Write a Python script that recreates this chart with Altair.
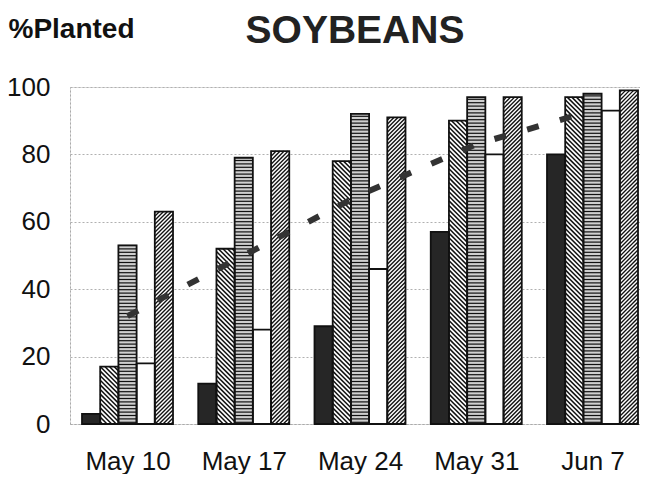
import altair as alt
import pandas as pd

# ---- data ----
dates = ["May 10", "May 17", "May 24", "May 31", "Jun 7"]
series = ["solid", "back_hatch", "horizontal", "white", "fwd_hatch"]
solid_vals = [3, 12, 29, 57, 80]
back_hatch_vals = [17, 52, 78, 90, 97]
horizontal_vals = [53, 79, 92, 97, 98]
white_vals = [18, 28, 46, 80, 93]
fwd_hatch_vals = [63, 81, 91, 97, 99]
avg_vals = [32, 50, 68, 83, 93]
y_ticks = [0, 20, 40, 60, 80, 100]

all_vals = [solid_vals, back_hatch_vals, horizontal_vals, white_vals, fwd_hatch_vals]
fills = ["#262626", "white", "#cfcfcf", "white", "white"]

# ---- layout constants (pixels) ----
W, H = 570, 337
STEP = 116.25          # px per date group
BAR = 18.2             # px per bar
LEFT = 57.5            # px from plot left to first group centre
KY = H / 100.0
x_dom = [-LEFT / STEP, (W - LEFT) / STEP]
xscale = alt.Scale(domain=x_dom, nice=False, zero=False)
yscale = alt.Scale(domain=[0, 100], nice=False)

bars = []
hatch = []
for k, (name, vals) in enumerate(zip(series, all_vals)):
    for i, v in enumerate(vals):
        xl = -2.5 * BAR + k * BAR
        xr = xl + BAR
        h = v * KY
        bars.append({"series": name, "date": dates[i], "x": i + xl / STEP,
                     "x2": i + xr / STEP, "y": 0, "y2": v})
        if name == "back_hatch":      # lines x + y = c (y up)
            s = 4.6
            c = xl + s * 0.5
            while c < xr + h:
                xa, xb = max(xl, c - h), min(xr, c)
                if xb - xa > 0.3:
                    hatch.append({"kind": "diag_b", "x": i + xa / STEP, "y": (c - xa) / KY,
                                  "x2": i + xb / STEP, "y2": (c - xb) / KY})
                c += s
        elif name == "fwd_hatch":     # lines y = x + c (y up)
            s = 4.0
            c = -xr + s * 0.5
            while c < h - xl:
                xa, xb = max(xl, -c), min(xr, h - c)
                if xb - xa > 0.3:
                    hatch.append({"kind": "diag_f", "x": i + xa / STEP, "y": (xa + c) / KY,
                                  "x2": i + xb / STEP, "y2": (xb + c) / KY})
                c += s
        elif name == "horizontal":
            s = 3.4
            yy = s * 0.5
            while yy < h:
                hatch.append({"kind": "horiz", "x": i + xl / STEP, "y": yy / KY,
                              "x2": i + xr / STEP, "y2": yy / KY})
                yy += s

bars_df = pd.DataFrame(bars)
hatch_df = pd.DataFrame(hatch)
line_df = pd.DataFrame({"x": list(range(len(dates))), "avg": avg_vals, "date": dates})

FONT = "Liberation Sans"
label_expr = "[" + ",".join("'%s'" % d for d in dates) + "][datum.value]"

x_axis = alt.Axis(values=list(range(len(dates))), labelExpr=label_expr, grid=False,
                  ticks=False, domain=True, domainDash=[2, 2], domainColor="#aaaaaa",
                  labelFontSize=26, labelFont=FONT, labelColor="#111111", labelPadding=24,
                  labelFlush=False, labelOverlap=False, title=None)
y_axis = alt.Axis(values=y_ticks, grid=True, gridDash=[2, 2], gridColor="#b0b0b0",
                  gridWidth=1, domain=True, domainDash=[2, 2], domainColor="#aaaaaa",
                  ticks=False, labelFontSize=26, labelFont=FONT, labelColor="#111111",
                  labelPadding=20, labelFlush=False,
                  title="%Planted", titleAngle=0, titleX=-62, titleY=-50,
                  titleAlign="left", titleBaseline="alphabetic", titleFontSize=28,
                  titleFontWeight="bold", titleFont=FONT, titleColor="#111111")

X = alt.X("x:Q", scale=xscale, axis=x_axis)

fill_layer = alt.Chart(bars_df).mark_rect(strokeWidth=0).encode(
    x=X,
    x2="x2:Q",
    y=alt.Y("y:Q", scale=yscale, axis=y_axis),
    y2="y2:Q",
    fill=alt.Fill("series:N", scale=alt.Scale(domain=series, range=fills), legend=None),
)

hatch_layer = alt.Chart(hatch_df).mark_rule(color="#111111").encode(
    x=X,
    x2="x2:Q",
    y=alt.Y("y:Q", scale=yscale, axis=y_axis),
    y2="y2:Q",
    strokeWidth=alt.StrokeWidth("kind:N", scale=alt.Scale(domain=["diag_b", "diag_f", "horiz"],
                                                          range=[1.5, 1.2, 1.3]), legend=None),
)

outline_layer = alt.Chart(bars_df).mark_rect(fill="transparent", stroke="#111111",
                                             strokeWidth=1.8).encode(
    x=X,
    x2="x2:Q",
    y=alt.Y("y:Q", scale=yscale, axis=y_axis),
    y2="y2:Q",
)

line_layer = alt.Chart(line_df).mark_line(color="#333333", strokeWidth=6,
                                          strokeDash=[12, 22], strokeCap="butt").encode(
    x=X,
    y=alt.Y("avg:Q", scale=yscale, axis=y_axis),
)

chart = alt.layer(fill_layer, hatch_layer, outline_layer, line_layer).properties(
    width=W, height=H,
    autosize=alt.AutoSizeParams(type="none"),
    padding={"left": 62, "top": 79, "right": 0, "bottom": 50},
    title=alt.TitleParams("SOYBEANS", fontSize=39, fontWeight="bold", font=FONT,
                          anchor="middle", offset=0, dy=36, color="#222222"),
).configure_view(strokeWidth=0).configure(background="white")

chart.save("out.html", embed_options={"renderer": "svg", "actions": False})
